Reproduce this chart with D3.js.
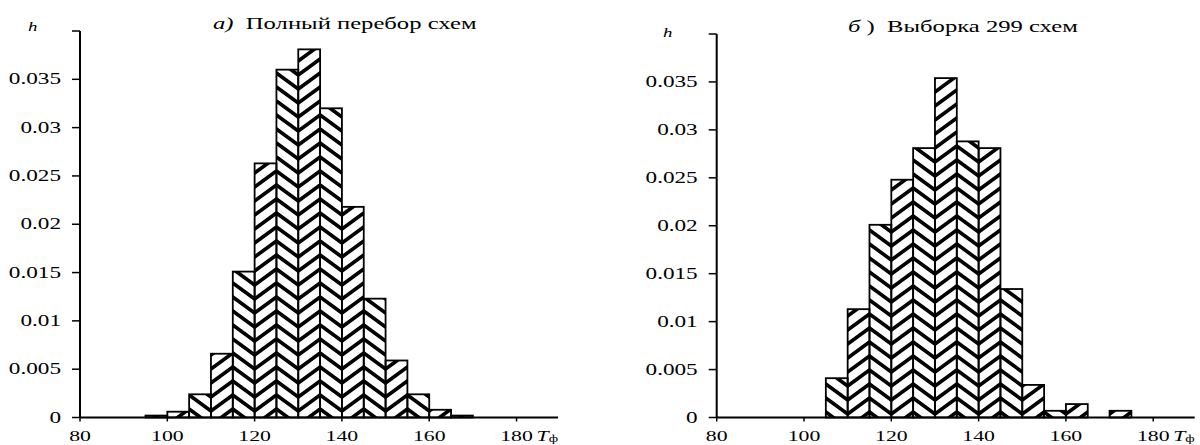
<!DOCTYPE html>
<html>
<head>
<meta charset="utf-8">
<script src="https://cdn.jsdelivr.net/npm/d3@7"></script>
<style>
    body { margin: 0; background: #fff; }
    svg { display: block; }
    text { font-family: "Liberation Serif", "DejaVu Serif", serif; fill: #000; }
</style>
</head>
<body>
<div id="chart"></div>
<script>
// --- data (bins of width 5) ---
var binsA = [95, 100, 105, 110, 115, 120, 125, 130, 135, 140, 145, 150, 155, 160, 165];
var valuesA = [0.0002, 0.0006, 0.0024, 0.0066, 0.0151, 0.0263, 0.036, 0.0381, 0.032,
               0.0218, 0.0123, 0.0059, 0.0024, 0.0008, 0.0002];

var binsB = [105, 110, 115, 120, 125, 130, 135, 140, 145, 150, 155, 160, 165, 170];
var valuesB = [0.0041, 0.0113, 0.0201, 0.0248, 0.0281, 0.0354, 0.0288, 0.0281, 0.0134,
               0.0034, 0.0007, 0.0014, 0, 0.0007];

var binWidth = 5;
var xTicks = [80, 100, 120, 140, 160, 180];
var yTicks = [0, 0.005, 0.01, 0.015, 0.02, 0.025, 0.03, 0.035, 0.04];
var yTickLabels = ['0', '0.005', '0.01', '0.015', '0.02', '0.025', '0.03', '0.035', ''];

var W = 1200, H = 445;
var stretch = 1.45;   // the original picture is stretched horizontally

var svg = d3.select('#chart').append('svg')
    .attr('width', W)
    .attr('height', H);

var defs = svg.append('defs');
defs.append('filter')
    .attr('id', 'soft')
    .append('feGaussianBlur')
    .attr('stdDeviation', 0.45);

var addText = function(g, x, y, size) {
    return g.append('text')
        .attr('transform', 'translate(' + x + ',' + y + ') scale(' + stretch + ',1)')
        .style('font-size', size + 'px');
};

var panels = [
    {id: 'a', bins: binsA, values: valuesA, left: 80, right: 558, top: 31, bottom: 417.5,
     title: {x: 213, y: 29, mark: 'а)', text: '  Полный перебор схем'}, h: {x: 28, y: 31}},
    {id: 'b', bins: binsB, values: valuesB, left: 716.7, right: 1194.7, top: 34, bottom: 417.5,
     title: {x: 848, y: 32, mark: 'б', text: ' )  Выборка 299 схем'}, h: {x: 663, y: 37}}
];

var draw_panel = function(p) {
    var g = svg.append('g');

    var x = d3.scaleLinear().domain([80, 189.5]).range([p.left, p.right]);
    var y = d3.scaleLinear().domain([0, 0.04]).range([p.bottom, p.top]);

    var data = p.bins.map(function(b, i) { return {x0: b, v: p.values[i]}; })
        .filter(function(d) { return d.v > 0; });

    // clip path made of the bars
    var clip = defs.append('clipPath').attr('id', 'clip-' + p.id);
    clip.selectAll('rect')
        .data(data)
        .enter()
        .append('rect')
        .attr('x', function(d) { return x(d.x0); })
        .attr('y', function(d) { return y(d.v); })
        .attr('width', function(d) { return x(d.x0 + binWidth) - x(d.x0); })
        .attr('height', function(d) { return y(0) - y(d.v); });

    // herring-bone hatching: zig-zag lines through the bin edges
    var edges = d3.range(80, 195, binWidth);
    var rise = 16, period = 14;
    var bases = d3.range(p.top - 2 * period, p.bottom + period, period);
    var line = d3.line()
        .x(function(e) { return x(e); })
        .y(function(e) { return (e / binWidth) % 2 === 1 ? 0 : rise; });

    var hatch = g.append('g').attr('clip-path', 'url(#clip-' + p.id + ')')
        .append('g').attr('filter', 'url(#soft)');
    hatch.selectAll('path')
        .data(bases)
        .enter()
        .append('path')
        .attr('transform', function(b) { return 'translate(0,' + b + ')'; })
        .attr('d', line(edges))
        .attr('fill', 'none')
        .attr('stroke', '#000')
        .attr('stroke-width', 3.6);

    // bar outlines
    g.append('g').selectAll('rect')
        .data(data)
        .enter()
        .append('rect')
        .attr('x', function(d) { return x(d.x0); })
        .attr('y', function(d) { return y(d.v); })
        .attr('width', function(d) { return x(d.x0 + binWidth) - x(d.x0); })
        .attr('height', function(d) { return y(0) - y(d.v); })
        .attr('fill', 'none')
        .attr('stroke', '#000')
        .attr('stroke-width', 1.8);

    // y axis
    g.append('line')
        .attr('x1', p.left).attr('x2', p.left)
        .attr('y1', y(0.04)).attr('y2', y(0))
        .attr('stroke', '#000').attr('stroke-width', 2);
    g.append('g').selectAll('line')
        .data(yTicks)
        .enter()
        .append('line')
        .attr('x1', p.left - 8).attr('x2', p.left)
        .attr('y1', function(d) { return y(d); })
        .attr('y2', function(d) { return y(d); })
        .attr('stroke', '#000').attr('stroke-width', 1.5);
    yTicks.forEach(function(t, i) {
        addText(g, p.left - 19, y(t) + 5, 16)
            .attr('text-anchor', 'end')
            .text(yTickLabels[i]);
    });

    // x axis
    g.append('line')
        .attr('x1', x(80)).attr('x2', p.right)
        .attr('y1', p.bottom).attr('y2', p.bottom)
        .attr('stroke', '#000').attr('stroke-width', 1.8);
    g.append('g').selectAll('line')
        .data(xTicks)
        .enter()
        .append('line')
        .attr('x1', function(d) { return x(d); })
        .attr('x2', function(d) { return x(d); })
        .attr('y1', p.bottom).attr('y2', p.bottom + 4)
        .attr('stroke', '#000').attr('stroke-width', 1.5);
    xTicks.forEach(function(t) {
        addText(g, x(t), p.bottom + 23, 15)
            .attr('text-anchor', 'middle')
            .text(t);
    });

    // x axis name: T with subscript ф
    var tl = addText(g, x(180) + 20, p.bottom + 23, 15);
    tl.append('tspan').style('font-style', 'italic').text('T');
    tl.append('tspan').attr('dy', 1.5).style('font-size', '10px').text('ф');

    // y axis name
    addText(g, p.h.x, p.h.y, 13).style('font-style', 'italic').text('h');

    // title
    var tt = addText(g, p.title.x, p.title.y, 17).attr('xml:space', 'preserve');
    tt.append('tspan').style('font-style', 'italic').text(p.title.mark);
    tt.append('tspan').text(p.title.text);
};

panels.forEach(draw_panel);
</script>
</body>
</html>
